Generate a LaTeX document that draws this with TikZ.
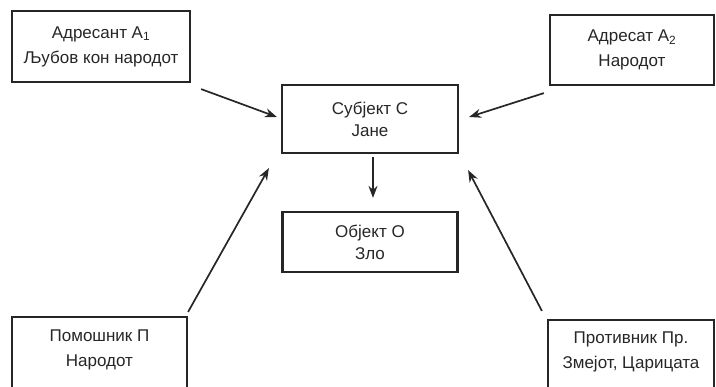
\documentclass[tikz,border=0pt]{standalone}
\usepackage{fontspec}
\setmainfont{Liberation Sans}
\usetikzlibrary{arrows.meta}
\begin{document}
\begin{tikzpicture}[x=1pt,y=-1pt,
  box/.style={draw=black!85,line width=2.2pt,rectangle,align=center,inner sep=0pt,
    font=\fontsize{17}{25}\selectfont,text=black!85},
  txt/.style={align=center,inner sep=0pt,font=\fontsize{17}{25}\selectfont,text=black!85},
  arr/.style={draw=black!85,line width=1.7pt,-{Stealth[length=12pt,width=9pt]}}]
\useasboundingbox (0,0) rectangle (716,387);
\node[box,minimum width=178pt,minimum height=71pt] (b1) at (101,46.5)
  {Адресант А\textsubscript{1}\\Љубов кон народот};
\node[box,minimum width=164pt,minimum height=70pt] (b2) at (632,50)
  {Адресат А\textsubscript{2}\\Народот};
\node[box,minimum width=176pt,minimum height=68pt,font=\fontsize{17}{22}\selectfont] (subj) at (370,119)
  {Субјект С\\Јане};
\node[box,minimum width=175pt,minimum height=60pt,font=\fontsize{17}{22}\selectfont] (obj) at (370,242)
  {Објект О\\Зло};
\node[box,minimum width=175pt,minimum height=80pt] (b3) at (99.5,357) {};
\node[txt] (b3t) at (99.5,350) {Помошник П\\Народот};
\node[box,minimum width=166pt,minimum height=78pt] (b4) at (631,359) {};
\node[txt] (b4t) at (631,352) {Противник Пр.\\Змејот, Царицата};
\draw[arr] ([shift={(10,6)}]b1.south east) -- ([xshift=-4,yshift=2]subj.west);
\draw[arr] ([shift={(-5,7)}]b2.south west) -- ([xshift=10,yshift=2]subj.east);
\draw[arr] ([shift={(3,3)}]subj.south) -- ([shift={(3,-13)}]obj.north);
\draw[arr] ([shift={(0,-4)}]b3.north east) -- ([shift={(-12,14)}]subj.south west);
\draw[arr] ([shift={(-5,-8)}]b4.north west) -- ([shift={(9,16)}]subj.south east);
\end{tikzpicture}
\end{document}
